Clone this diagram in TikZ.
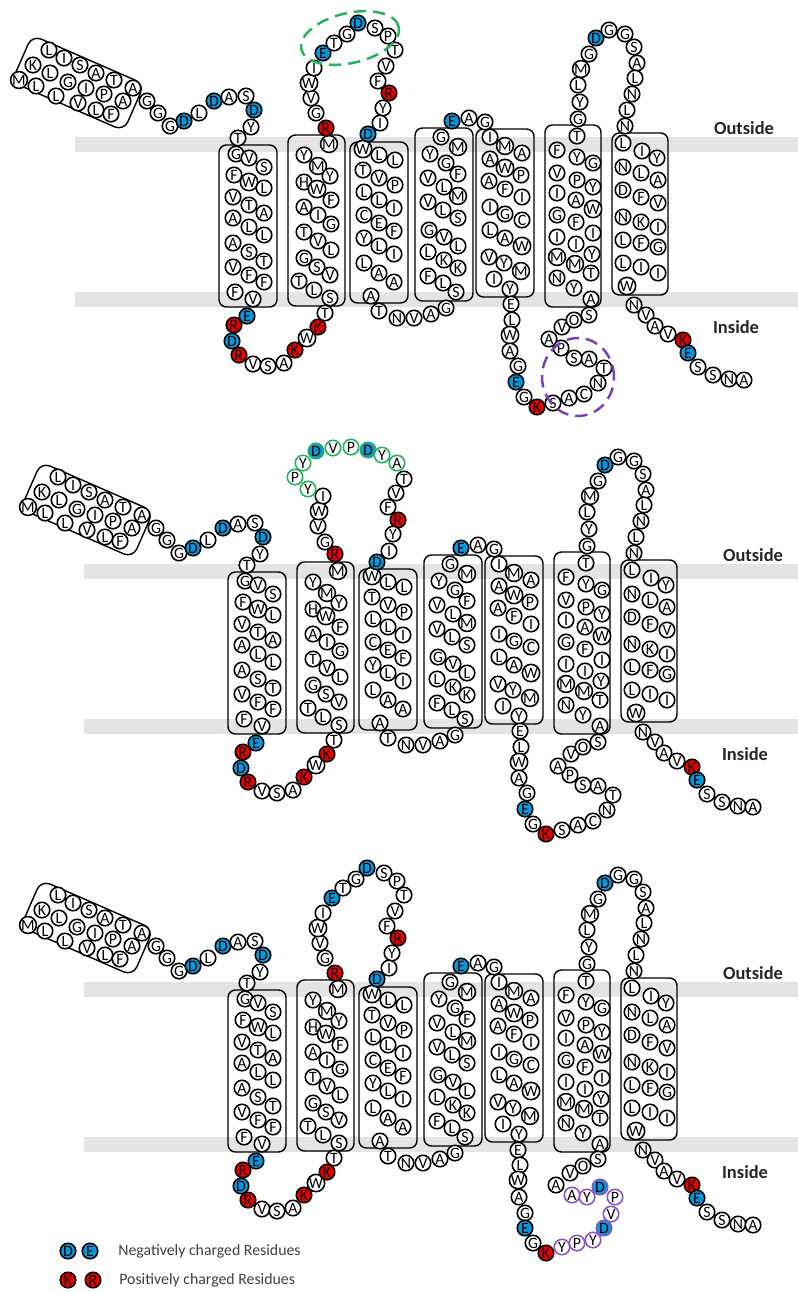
\documentclass[tikz,border=0pt]{standalone}
\usepackage{fontspec}
\setmainfont{Carlito}
\usepackage{xcolor}
\usepackage{tikz}
\usetikzlibrary{positioning}
\definecolor{negBlue}{HTML}{0A97D9}
\definecolor{posRed}{HTML}{E60000}
\definecolor{tagGreen}{HTML}{22B35C}
\definecolor{tagPurple}{HTML}{8A55C8}
\definecolor{ringPurple}{HTML}{7A3DB8}
\definecolor{bandGray}{HTML}{E5E3E3}
\definecolor{legendGray}{HTML}{404040}

\tikzset{
  aa/.style={circle, draw=black, line width=0.9pt, fill=white, minimum size=0.31cm,
    inner sep=0pt, font=\fontsize{9}{9}\selectfont},
  aaneg/.style={aa, fill=negBlue},
  aapos/.style={aa, fill=posRed},
  tagg/.style={aa, draw=tagGreen},
  taggneg/.style={tagg, fill=negBlue},
  tagp/.style={aa, draw=tagPurple},
  tagpneg/.style={tagp, fill=negBlue},
  tmbox/.style={draw=black, line width=0.8pt, rounded corners=0.15cm},
  ntbox/.style={draw=black, line width=0.8pt, rounded corners=0.2cm,
    minimum width=2.45cm, minimum height=1.02cm, rotate=-23.6},
  band/.style={fill=bandGray, draw=none},
  side/.style={font=\fontsize{10.5}{12}\selectfont\bfseries, text=black!85},
  legtext/.style={font=\fontsize{9}{10}\selectfont, text=legendGray, anchor=west, inner sep=0pt},
  ringg/.style={draw=tagGreen, line width=1.4pt, dash pattern=on 7pt off 4pt},
  ringp/.style={draw=ringPurple, line width=1.4pt, dash pattern=on 7pt off 4pt},
}

% a run of residues: name prefix, then x/y/letter/style
\newcommand{\chain}[2]{%
  \foreach \x/\y/\l/\s [count=\i] in {#2} \node[\s] (#1\i) at (\x,\y) {\l};}

% parts shared by all three panels (coordinates of the lowest panel)
\newcommand{\basepanel}[1]{%
  % membrane
  \fill[band] (84,982) rectangle (830,997);
  \fill[band] (84,1137) rectangle (830,1152);
  % helix boxes
  \draw[tmbox] (228,990) rectangle (286,1152);
  \draw[tmbox] (297,980) rectangle (354,1151);
  \draw[tmbox] (359,987) rectangle (417,1148);
  \draw[tmbox] (424,973) rectangle (482,1146);
  \draw[tmbox] (485,974) rectangle (543,1142);
  \draw[tmbox] (554,970) rectangle (610,1152);
  \draw[tmbox] (621,978) rectangle (677,1140);
  \node[ntbox] (#1nbox) at (87,928) {};
  % N terminus
  \chain{#1nt}{58/895/L/aa, 73/903/I/aa, 89/910/S/aa, 105/918/A/aa, 123/925/T/aa, 142/933/A/aa,
    42/910/K/aa, 59/918/L/aa, 77/927/G/aa, 95/933/I/aa, 113/939/P/aa, 132/946/A/aa,
    28/925/M/aa, 45/931/L/aa, 65/941/L/aa, 87/948/V/aa, 105/955/L/aa, 120/959/F/aa}
  \chain{#1lk}{156/946/G/aa, 167/958/G/aa, 179/971/G/aa, 193/966/D/aaneg, 208/958/L/aa,
    223/946/D/aaneg, 238/942/A/aa, 255/941/S/aa, 263/955/D/aaneg, 260/972/Y/aa, 247/983/T/aa}
  % TM1
  \chain{#1tma}{245/999/G/aa, 258/1003/V/aa, 273/1012/S/aa, 243/1020/F/aa, 258/1027/W/aa, 273/1033/L/aa,
    242/1042/V/aa, 258/1050/T/aa, 273/1058/A/aa, 242/1063/A/aa, 258/1072/L/aa, 273/1080/L/aa,
    242/1088/A/aa, 258/1097/S/aa, 273/1106/T/aa, 242/1112/V/aa, 258/1120/F/aa, 273/1127/F/aa,
    244/1137/F/aa, 262/1144/V/aa}
  \chain{#1ila}{256/1161/E/aaneg, 243/1170/R/aapos, 241/1186/D/aaneg, 248/1200/R/aapos, 262/1209/V/aa,
    277/1211/S/aa, 293/1208/A/aa, 304/1195/K/aapos, 316/1183/W/aa, 327/1172/K/aapos, 334/1158/T/aa}
  % TM2
  \chain{#1tmb}{338/989/M/aa, 313/1000/Y/aa, 327/1011/M/aa, 339/1021/Y/aa, 313/1027/H/aa, 326/1034/W/aa,
    340/1045/F/aa, 313/1052/A/aa, 327/1060/I/aa, 340/1069/G/aa, 313/1077/T/aa, 327/1086/V/aa,
    340/1095/L/aa, 313/1103/G/aa, 326/1112/S/aa, 339/1120/V/aa, 308/1126/T/aa, 323/1135/L/aa, 339/1143/S/aa}
  % TM3
  \chain{#1tmc}{372/994/W/aa, 388/1000/L/aa, 404/1005/L/aa, 372/1015/T/aa, 388/1023/V/aa, 404/1030/P/aa,
    373/1037/L/aa, 388/1045/L/aa, 403/1053/I/aa, 373/1060/C/aa, 388/1068/E/aa, 403/1076/F/aa,
    373/1083/Y/aa, 388/1091/L/aa, 403/1099/I/aa, 373/1108/L/aa, 388/1118/A/aa, 403/1127/A/aa, 380/1141/A/aa}
  \chain{#1ilb}{388/1156/T/aa, 406/1163/N/aa, 423/1163/V/aa, 440/1159/A/aa, 455/1153/G/aa}
  % TM4
  \chain{#1elb}{461/966/E/aaneg, 478/963/A/aa, 494/967/G/aa}
  \chain{#1tmd}{450/982/G/aa, 467/992/M/aa, 439/999/Y/aa, 455/1008/G/aa, 467/1019/F/aa, 437/1023/V/aa,
    453/1032/L/aa, 467/1041/M/aa, 437/1047/V/aa, 452/1055/L/aa, 467/1063/S/aa, 438/1075/G/aa,
    453/1082/V/aa, 467/1091/L/aa, 437/1097/L/aa, 453/1105/K/aa, 467/1113/K/aa, 437/1121/F/aa,
    452/1128/L/aa, 465/1137/S/aa}
  % TM5
  \chain{#1tme}{499/982/I/aa, 514/991/M/aa, 531/998/A/aa, 499/1004/A/aa, 514/1013/W/aa, 530/1020/P/aa,
    498/1026/A/aa, 514/1034/F/aa, 531/1042/I/aa, 499/1052/I/aa, 514/1059/G/aa, 531/1065/C/aa,
    499/1075/L/aa, 514/1083/A/aa, 531/1091/W/aa, 498/1102/V/aa, 513/1108/Y/aa, 530/1116/M/aa,
    503/1124/I/aa, 519/1134/Y/aa}
  % TM6
  \chain{#1tmf}{586/981/T/aa, 566/995/F/aa, 586/1002/Y/aa, 602/1008/G/aa, 566/1018/V/aa, 586/1025/P/aa,
    602/1032/Y/aa, 566/1038/I/aa, 585/1045/A/aa, 602/1054/W/aa, 566/1060/G/aa, 585/1067/F/aa,
    602/1078/I/aa, 566/1082/I/aa, 585/1089/I/aa, 601/1099/Y/aa, 566/1102/M/aa, 584/1109/M/aa,
    600/1118/T/aa, 566/1123/N/aa, 583/1133/Y/aa, 600/1144/A/aa}
  \chain{#1elc}{587/964/G/aa, 589/947/Y/aa, 587/930/L/aa, 590/914/M/aa, 598/899/G/aa, 605/883/D/aaneg,
    618/875/G/aa, 634/879/G/aa, 643/892/S/aa, 646/908/A/aa, 644/923/L/aa, 641/939/N/aa,
    636/955/L/aa, 634/971/N/aa}
  % TM7
  \chain{#1tmg}{632/988/L/aa, 651/996/I/aa, 666/1003/Y/aa, 632/1012/N/aa, 650/1018/L/aa, 667/1025/A/aa,
    632/1035/D/aa, 650/1042/F/aa, 667/1048/V/aa, 632/1062/N/aa, 650/1067/K/aa, 667/1072/I/aa,
    632/1085/L/aa, 650/1088/F/aa, 667/1092/G/aa, 632/1108/L/aa, 650/1112/I/aa, 667/1118/I/aa,
    636/1131/W/aa}
  \chain{#1ct}{643/1150/N/aa, 655/1160/V/aa, 664/1171/A/aa, 677/1179/V/aa, 692/1185/K/aapos,
    697/1198/E/aaneg, 707/1212/S/aa, 722/1220/S/aa, 738/1224/N/aa, 753/1225/A/aa}
  \node[side] (#1out) at (753,973) {Outside};
  \node[side] (#1in) at (745,1172) {Inside};
}

% first outer loop, native
\newcommand{\elanative}[1]{%
  \chain{#1ela}{335/973/R/aapos, 325/958/G/aa, 320/943/V/aa, 318/928/W/aa, 323/913/I/aa, 332/898/E/aaneg,
    343/888/T/aa, 356/879/G/aa, 367/868/D/aaneg, 384/873/S/aa, 397/881/P/aa, 404/895/T/aa,
    395/911/V/aa, 387/926/F/aa, 398/938/R/aapos, 392/953/Y/aa, 389/968/I/aa, 377/979/D/aaneg}}
% first outer loop, tagged
\newcommand{\elatagged}[1]{%
  \chain{#1ela}{335/972/R/aapos, 325/960/G/aa, 318/944/V/aa, 319/929/W/aa, 323/914/I/aa,
    308/907/Y/tagg, 295/895/P/tagg, 303/881/Y/tagg, 316/869/D/taggneg, 333/866/V/tagg,
    351/865/P/tagg, 368/868/D/taggneg, 382/873/Y/tagg, 397/881/A/tagg,
    404/897/T/aa, 396/911/V/aa, 388/925/F/aa, 398/938/R/aapos, 393/952/Y/aa, 389/969/I/aa, 377/980/D/aaneg}}
% third inner loop, native
\newcommand{\ilcnative}[1]{%
  \chain{#1ilc}{520/1149/E/aa, 521/1165/L/aa, 519/1180/W/aa, 519/1196/A/aa, 527/1211/G/aa,
    525/1227/E/aaneg, 533/1242/G/aa, 546/1252/K/aapos, 562/1248/S/aa, 578/1243/A/aa, 593/1239/C/aa,
    607/1228/N/aa, 613/1213/T/aa, 598/1204/A/aa, 583/1203/S/aa, 570/1193/P/aa, 558/1184/A/aa,
    571/1172/V/aa, 583/1165/O/aa, 598/1160/S/aa}}
% third inner loop, tagged
\newcommand{\ilctagged}[1]{%
  \chain{#1ilc}{518/1150/E/aa, 520/1165/L/aa, 518/1180/W/aa, 519/1197/A/aa, 525/1213/G/aa,
    525/1228/E/aaneg, 533/1243/G/aa, 546/1253/K/aapos,
    562/1247/Y/tagp, 577/1243/P/tagp, 593/1240/Y/tagp, 604/1228/D/tagpneg, 611/1214/V/tagp,
    615/1197/P/tagp, 600/1187/D/tagpneg, 587/1197/Y/tagp, 572/1195/A/tagp,
    556/1185/A/aa, 570/1173/V/aa, 583/1166/O/aa, 598/1159/S/aa}}

\begin{document}
\begin{tikzpicture}[x=0.02cm, y=-0.02cm]
  \useasboundingbox (0,0) rectangle (798,1292);
  \clip (0,0) rectangle (798,1292);

  % panel 1: native, marked loops
  \begin{scope}[shift={(-9,-845)}]
    \basepanel{p1}
    \elanative{p1}
    \ilcnative{p1}
    \draw[ringg, rotate around={13:(359,883)}] (359,883) ellipse [x radius=1.0cm, y radius=0.5cm];
    \draw[ringp] (587,1222) ellipse [x radius=0.72cm, y radius=0.78cm];
  \end{scope}

  % panel 2: tag in the outer loop
  \begin{scope}[shift={(0,-418)}]
    \basepanel{p2}
    \elatagged{p2}
    \ilcnative{p2}
  \end{scope}

  % panel 3: tag in the inner loop
  \basepanel{p3}
  \elanative{p3}
  \ilctagged{p3}

  % legend
  \node[aaneg] (legD) at (68,1251) {D};
  \node[aaneg] (legE) at (90,1251) {E};
  \node[legtext] (legNeg) at (118,1251) {Negatively charged Residues};
  \node[aapos] (legK) at (68,1280) {K};
  \node[aapos] (legR) at (93,1280) {R};
  \node[legtext] (legPos) at (119,1280) {Positively charged Residues};
\end{tikzpicture}
\end{document}
